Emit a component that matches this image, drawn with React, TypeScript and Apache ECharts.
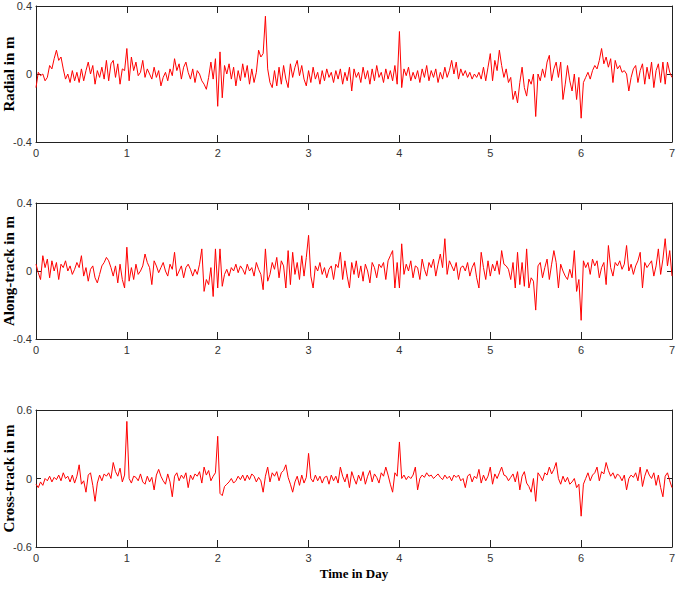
import React, { useEffect, useRef } from 'react';
import * as echarts from 'echarts';

// Sampling step of the series, in days
const STEP_DAYS = 0.025;

const xTickDays = [0, 1, 2, 3, 4, 5, 6, 7];
const panelNames = ['Radial in m', 'Along-track in m', 'Cross-track in m'];
const panelLimits = [0.4, 0.4, 0.6];
const xAxisTitle = 'Time in Day';

// Radial error (m), one value every 0.025 day from 0 to 7
const radialValues = [
  -0.08, 0.01, -0.01, 0.00, -0.04, -0.02, 0.05, 0.03, 0.09, 0.14, 0.08, 0.10, 0.03, -0.03, 0.00, -0.05, 0.02, -0.04, 0.01, -0.05, 0.03, -0.04, 0.02, 0.07, 0.00, 0.05, -0.06, 0.02, -0.02, 0.04, -0.03, 0.08, -0.04, 0.06, 0.08, -0.02, 0.06, -0.06, 0.03, 0.02,
  0.15, -0.04, 0.10, 0.02, 0.07, -0.01, 0.01, 0.08, -0.02, 0.03, 0.00, -0.03, 0.04, -0.02, 0.02, -0.07, -0.02, 0.01, -0.04, 0.03, -0.01, 0.09, 0.02, 0.06, -0.03, 0.04, 0.07, 0.01, -0.03, 0.03, -0.05, 0.02, 0.00, -0.04, -0.06, -0.09, -0.02, 0.07, -0.03, 0.09,
  -0.19, 0.13, -0.14, 0.05, 0.00, 0.06, -0.03, 0.04, -0.07, 0.02, -0.04, 0.06, -0.02, 0.05, -0.06, 0.03, -0.05, 0.01, 0.14, 0.10, 0.12, 0.34, 0.03, -0.05, -0.08, 0.02, -0.07, 0.04, -0.06, 0.05, -0.03, -0.08, 0.06, -0.02, 0.04, 0.08, -0.01, 0.05, -0.03, -0.07,
  0.02, -0.05, 0.04, -0.03, 0.01, -0.06, 0.02, -0.04, 0.03, -0.02, 0.01, -0.05, 0.02, -0.03, 0.03, -0.06, 0.01, -0.04, 0.04, -0.10, 0.03, -0.02, 0.01, -0.05, 0.04, -0.03, 0.02, -0.06, 0.03, -0.04, 0.05, -0.02, 0.01, -0.05, 0.03, -0.03, 0.02, -0.04, 0.05, -0.06,
  0.25, -0.08, 0.03, -0.01, 0.04, -0.04, 0.01, -0.03, 0.02, -0.05, 0.03, -0.02, 0.05, -0.04, 0.02, -0.02, 0.03, -0.05, 0.01, -0.03, 0.04, -0.02, 0.02, 0.08, 0.00, 0.07, -0.03, 0.03, -0.01, 0.02, -0.02, 0.01, -0.03, 0.00, -0.02, 0.01, -0.03, 0.04, -0.04, 0.04,
  0.12, -0.04, 0.08, 0.02, 0.14, 0.05, -0.02, 0.03, -0.05, -0.02, -0.15, -0.10, -0.17, -0.05, 0.04, -0.08, -0.13, -0.03, -0.06, 0.00, -0.25, 0.00, -0.04, 0.03, -0.02, 0.07, 0.11, -0.04, 0.03, 0.07, -0.02, 0.07, -0.15, -0.06, 0.05, -0.04, -0.10, 0.00, -0.15, -0.02,
  -0.26, -0.05, -0.02, 0.01, -0.03, 0.02, 0.05, 0.03, 0.08, 0.15, 0.06, 0.10, 0.04, 0.09, -0.05, 0.08, 0.03, 0.05, 0.01, 0.02, 0.00, -0.10, -0.02, 0.03, 0.05, -0.05, 0.02, 0.06, -0.06, 0.04, -0.03, 0.07, -0.08, 0.02, 0.06, -0.05, 0.07, -0.06, 0.07, 0.01,
  -0.02,
];

// Along-track error (m)
const alongValues = [
  0.04, -0.01, -0.05, 0.09, 0.02, 0.07, -0.04, 0.06, 0.00, 0.05, -0.05, 0.04, 0.02, 0.06, 0.00, 0.03, -0.02, 0.01, 0.05, 0.02, 0.09, -0.03, 0.02, -0.06, 0.01, 0.03, -0.04, -0.07, -0.02, 0.03, 0.05, 0.08, 0.06, 0.02, -0.03, 0.03, -0.07, 0.04, -0.05, -0.10,
  0.14, -0.06, 0.02, -0.05, 0.04, -0.02, 0.00, 0.03, 0.10, 0.05, 0.02, -0.08, 0.06, 0.03, -0.01, 0.02, 0.05, 0.00, -0.03, 0.04, 0.01, 0.11, -0.03, 0.00, 0.03, -0.04, 0.02, 0.04, 0.01, -0.03, 0.01, -0.02, 0.04, 0.13, -0.12, -0.05, -0.08, 0.02, -0.15, 0.13,
  -0.10, 0.13, -0.09, -0.02, 0.01, -0.03, 0.02, 0.00, 0.04, -0.01, 0.03, 0.01, -0.02, 0.04, 0.00, 0.02, -0.03, 0.05, 0.01, -0.02, -0.11, 0.13, -0.06, -0.02, 0.05, 0.01, 0.08, -0.04, 0.06, 0.03, -0.10, 0.12, -0.08, 0.11, -0.02, 0.05, -0.05, 0.09, -0.03, 0.08,
  0.21, -0.03, -0.10, 0.03, 0.00, 0.05, -0.02, 0.02, -0.04, 0.01, 0.03, -0.05, 0.04, 0.02, 0.11, -0.05, 0.06, -0.03, -0.10, 0.05, -0.02, 0.06, -0.04, 0.03, -0.06, 0.04, 0.00, -0.07, 0.05, 0.02, -0.04, 0.04, 0.02, 0.05, -0.05, 0.06, 0.09, 0.12, -0.10, 0.05,
  -0.10, 0.16, -0.02, 0.04, 0.00, 0.06, -0.04, 0.03, 0.02, -0.05, 0.07, 0.01, -0.03, 0.05, 0.02, 0.07, -0.03, 0.04, 0.10, 0.02, 0.19, -0.02, 0.06, 0.03, 0.00, 0.05, -0.05, 0.02, 0.03, 0.00, 0.05, -0.03, 0.02, 0.05, -0.04, -0.10, 0.11, 0.02, -0.05, 0.06,
  -0.03, 0.04, 0.00, 0.06, -0.02, 0.12, 0.04, 0.03, 0.01, -0.05, 0.05, -0.10, 0.11, -0.08, 0.05, -0.09, 0.13, -0.10, -0.04, -0.06, -0.23, 0.03, 0.05, -0.04, 0.02, 0.07, -0.05, 0.04, 0.12, 0.05, -0.10, 0.04, 0.00, -0.03, -0.05, 0.01, -0.04, 0.12, -0.12, -0.05,
  -0.29, 0.06, 0.02, 0.05, -0.02, 0.07, 0.03, 0.06, -0.04, 0.02, 0.05, -0.08, 0.15, 0.02, -0.03, 0.05, 0.03, 0.06, 0.01, 0.04, 0.15, 0.00, 0.04, -0.02, 0.03, 0.06, 0.11, -0.10, 0.05, 0.02, 0.04, 0.06, -0.03, 0.03, 0.13, -0.02, 0.07, 0.19, 0.03, 0.12,
  -0.03,
];

// Cross-track error (m)
const crossValues = [
  -0.05, -0.08, -0.03, -0.06, 0.00, -0.02, 0.02, -0.03, 0.01, -0.01, 0.03, -0.02, 0.05, 0.00, 0.02, -0.03, 0.03, -0.04, 0.02, 0.12, -0.05, -0.02, -0.12, 0.03, 0.05, -0.06, -0.20, -0.04, 0.03, -0.02, 0.04, 0.02, 0.05, 0.00, 0.14, 0.06, 0.02, 0.09, -0.03, 0.03,
  0.50, 0.00, -0.04, 0.02, 0.01, -0.02, 0.04, -0.03, -0.05, 0.02, -0.03, 0.01, -0.10, 0.03, 0.08, 0.02, -0.02, -0.05, 0.04, -0.03, -0.16, 0.02, 0.05, -0.02, 0.03, 0.00, 0.05, -0.08, 0.03, -0.01, 0.04, 0.02, 0.06, -0.04, 0.10, 0.03, 0.07, -0.02, 0.02, 0.05,
  0.37, -0.13, -0.15, -0.07, -0.05, -0.03, 0.00, -0.04, -0.02, 0.02, -0.01, 0.03, -0.02, 0.03, -0.01, 0.04, 0.02, -0.03, 0.01, -0.02, -0.12, 0.02, 0.10, -0.03, 0.05, 0.02, 0.06, -0.02, 0.05, 0.07, 0.12, 0.01, -0.05, -0.12, -0.03, 0.02, -0.06, 0.03, -0.04, 0.01,
  0.22, 0.00, -0.03, 0.03, -0.02, 0.02, -0.04, 0.01, 0.02, -0.05, 0.03, -0.02, 0.02, -0.04, 0.10, 0.02, -0.03, 0.04, -0.08, 0.06, 0.00, -0.05, 0.03, -0.02, 0.06, -0.05, 0.02, 0.07, -0.03, 0.04, 0.01, -0.04, 0.05, 0.02, 0.10, 0.03, -0.05, -0.12, 0.05, 0.02,
  0.32, 0.00, 0.03, -0.01, 0.02, 0.00, 0.03, 0.10, -0.10, 0.00, 0.03, 0.01, 0.05, 0.02, 0.03, 0.00, 0.02, 0.04, 0.01, -0.01, 0.03, 0.00, 0.02, -0.02, 0.03, 0.01, 0.03, -0.02, 0.00, -0.08, 0.02, 0.04, -0.03, 0.02, 0.00, 0.08, -0.04, 0.03, -0.02, 0.02,
  0.10, -0.05, 0.04, 0.00, 0.05, 0.10, 0.03, 0.02, -0.02, 0.01, 0.04, -0.03, 0.06, -0.10, 0.02, 0.06, -0.04, -0.07, -0.12, 0.00, -0.20, 0.05, 0.02, -0.02, 0.05, 0.03, 0.10, 0.04, 0.08, 0.14, 0.00, -0.05, 0.02, -0.03, 0.01, -0.05, -0.03, 0.00, -0.08, -0.05,
  -0.33, -0.05, 0.00, 0.05, -0.02, 0.03, 0.05, 0.10, -0.02, 0.06, 0.04, 0.14, 0.07, 0.02, 0.05, 0.00, 0.04, 0.02, -0.02, 0.03, -0.10, 0.00, 0.03, 0.01, 0.05, -0.02, 0.10, -0.07, 0.02, 0.08, 0.03, 0.00, 0.05, -0.06, 0.03, -0.08, -0.16, 0.02, 0.05, -0.02,
  -0.08,
];

const seriesValues = [radialValues, alongValues, crossValues];

const FRAME = '#222';
const LABEL = '#333';
const gridTops = [6, 203, 410];
const gridHeights = [136, 136, 137];

export default function App() {
  const ref = useRef<HTMLDivElement>(null);

  useEffect(() => {
    if (!ref.current) return;
    const chart = echarts.init(ref.current, null, { renderer: 'svg' });

    const grids: any[] = [];
    const xAxes: any[] = [];
    const yAxes: any[] = [];
    const series: any[] = [];
    const graphics: any[] = [];

    seriesValues.forEach((vals, i) => {
      grids.push({
        left: 36, top: gridTops[i], width: 636, height: gridHeights[i],
        containLabel: false, outerBoundsMode: 'none',
      });
      const lim = panelLimits[i];
      const last = i === seriesValues.length - 1;
      xAxes.push({
        type: 'value', gridIndex: i, position: 'bottom', min: xTickDays[0], max: xTickDays[xTickDays.length - 1], interval: 1,
        axisLine: { show: true, onZero: false, lineStyle: { color: FRAME, width: 1 } },
        axisTick: { show: true, inside: true, length: 7, lineStyle: { color: FRAME } },
        axisLabel: { show: true, margin: 5, color: LABEL, fontSize: 11, fontFamily: 'Liberation Sans, Arial, sans-serif' },
        splitLine: { show: false },
        name: last ? xAxisTitle : '',
        nameLocation: 'middle', nameGap: 20,
        nameTextStyle: { color: '#000', fontSize: 13, fontWeight: 'bold', fontFamily: 'Liberation Serif, Times New Roman, serif' },
      });
      xAxes.push({
        type: 'value', gridIndex: i, position: 'top', min: xTickDays[0], max: xTickDays[xTickDays.length - 1], interval: 1,
        axisLine: { show: true, onZero: false, lineStyle: { color: FRAME, width: 1 } },
        axisTick: { show: true, inside: true, length: 7, lineStyle: { color: FRAME } },
        axisLabel: { show: false }, splitLine: { show: false },
      });
      yAxes.push({
        type: 'value', gridIndex: i, position: 'left', min: -lim, max: lim, interval: lim,
        axisLine: { show: true, onZero: false, lineStyle: { color: FRAME, width: 1 } },
        axisTick: { show: true, inside: true, length: 5, lineStyle: { color: FRAME } },
        axisLabel: { show: true, margin: 4, color: LABEL, fontSize: 11, fontFamily: 'Liberation Sans, Arial, sans-serif' },
        splitLine: { show: false },
      });
      yAxes.push({
        type: 'value', gridIndex: i, position: 'right', min: -lim, max: lim, interval: lim,
        axisLine: { show: true, onZero: false, lineStyle: { color: FRAME, width: 1 } },
        axisTick: { show: true, inside: true, length: 5, lineStyle: { color: FRAME } },
        axisLabel: { show: false }, splitLine: { show: false },
      });
      series.push({
        type: 'line', xAxisIndex: 2 * i, yAxisIndex: 2 * i,
        data: vals.map((v, k) => [k * STEP_DAYS, v]),
        showSymbol: false, symbol: 'none',
        lineStyle: { color: '#ff0000', width: 1 },
        itemStyle: { color: '#ff0000' },
        clip: true,
      });
      graphics.push({
        type: 'text',
        x: 9,
        y: gridTops[i] + gridHeights[i] / 2,
        rotation: Math.PI / 2,
        style: {
          text: panelNames[i],
          fill: '#000',
          font: 'bold 15px "Liberation Serif", "Times New Roman", serif',
          textAlign: 'center',
          textVerticalAlign: 'middle',
        },
      });
    });

    chart.setOption({
      animation: false,
      backgroundColor: '#ffffff',
      grid: grids,
      xAxis: xAxes,
      yAxis: yAxes,
      series,
      graphic: graphics,
    });

    return () => chart.dispose();
  }, []);

  return <div ref={ref} style={{ position: 'absolute', left: 0, top: 0, width: 677, height: 593 }} />;
}
